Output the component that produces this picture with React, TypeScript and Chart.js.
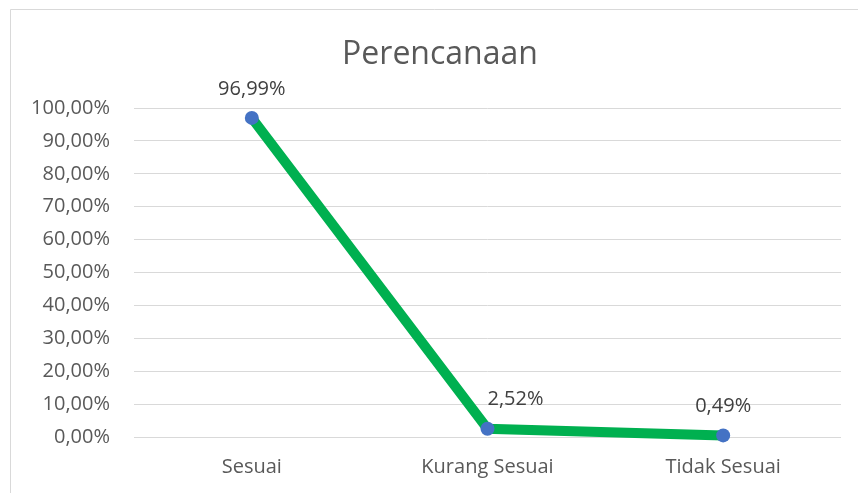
import React, { useEffect, useRef } from "react";
import { Chart, registerables } from "chart.js";

Chart.register(...registerables);

const categories = ["Sesuai", "Kurang Sesuai", "Tidak Sesuai"];
const values = [96.99, 2.52, 0.49];
const titleText = "Perencanaan";
const yMax = 100;
const yStep = 10;
// label nudges in pixels (x) relative to point
const labelDx = [0, 28, 0];

const fmt = (v: number) => v.toFixed(2).replace(".", ",") + "%";

const FONT = "'Open Sans', sans-serif";

const borderPlugin = {
  id: "frame",
  beforeDraw(chart: any) {
    const ctx = chart.ctx;
    ctx.save();
    ctx.fillStyle = "#ffffff";
    ctx.fillRect(0, 0, chart.width, chart.height);
    ctx.strokeStyle = "#d9d9d9";
    ctx.lineWidth = 1;
    ctx.beginPath();
    ctx.moveTo(10.5, chart.height + 2);
    ctx.lineTo(10.5, 9.5);
    ctx.lineTo(chart.width + 2, 9.5);
    ctx.stroke();
    ctx.font = `32px ${FONT}`;
    ctx.fillStyle = "#595959";
    ctx.textAlign = "center";
    ctx.textBaseline = "middle";
    ctx.fillText(titleText, 440, 55);
    ctx.restore();
  },
};

const labelPlugin = {
  id: "dataLabels",
  afterDatasetsDraw(chart: any) {
    const ctx = chart.ctx;
    const meta = chart.getDatasetMeta(0);
    ctx.save();
    ctx.font = `20px ${FONT}`;
    ctx.fillStyle = "#404040";
    ctx.textAlign = "center";
    ctx.textBaseline = "middle";
    meta.data.forEach((pt: any, i: number) => {
      ctx.fillText(fmt(values[i]), pt.x + labelDx[i], pt.y - 29);
    });
    ctx.restore();
  },
};

export default function App() {
  const ref = useRef<HTMLCanvasElement>(null);
  useEffect(() => {
    document.body.style.margin = "0";
    const chart = new Chart(ref.current!, {
      type: "line",
      data: {
        labels: categories,
        datasets: [
          {
            data: values,
            borderColor: "#00B050",
            borderWidth: 10,
            pointRadius: 7,
            pointBackgroundColor: "#4472C4",
            pointBorderColor: "#4472C4",
            pointBorderWidth: 0,
            tension: 0,
            clip: false,
          },
        ],
      },
      options: {
        animation: false,
        responsive: false,
        layout: { padding: { left: 0, right: 17, top: 108, bottom: 0 } },
        plugins: {
          legend: { display: false },
          tooltip: { enabled: false },
          title: { display: false },
        },
        scales: {
          x: {
            offset: true,
            grid: { display: false, drawTicks: false },
            border: { display: false },
            ticks: {
              color: "#595959",
              font: { family: FONT, size: 20 },
              padding: 18,
            },
            afterFit: (s: any) => {
              s.height = 56;
            },
          },
          y: {
            min: 0,
            max: yMax,
            grid: { color: "#d9d9d9", lineWidth: 1, drawTicks: false },
            border: { display: false },
            ticks: {
              stepSize: yStep,
              color: "#595959",
              font: { family: FONT, size: 20 },
              padding: 24,
              callback: (v: any) => fmt(Number(v)),
            },
            afterFit: (s: any) => {
              s.width = 134;
            },
          },
        },
      },
      plugins: [borderPlugin, labelPlugin],
    });
    return () => chart.destroy();
  }, []);
  return (
    <div style={{ width: 858, height: 493 }}>
      <canvas ref={ref} width={858} height={493} style={{ display: "block" }} />
    </div>
  );
}
